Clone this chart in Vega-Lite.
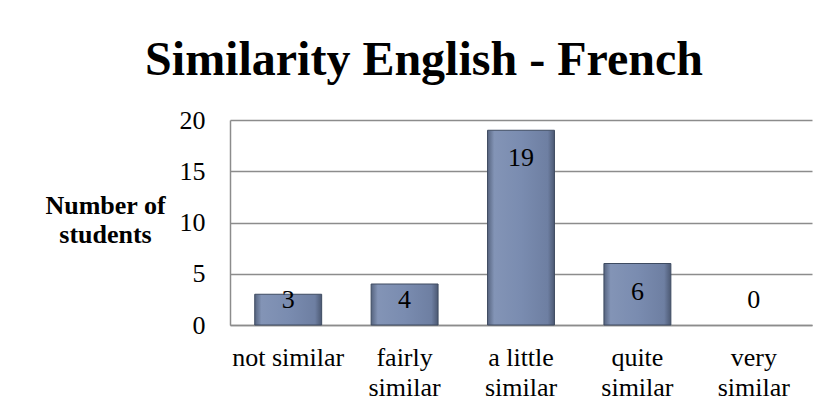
{
  "$schema": "https://vega.github.io/schema/vega-lite/v6.json",
  "width": 582,
  "height": 205,
  "autosize": {"type": "none"},
  "padding": {"left": 230, "top": 120, "right": 18, "bottom": 89},
  "background": "white",
  "title": {
    "text": "Similarity English - French",
    "font": "Liberation Serif",
    "fontSize": 48,
    "fontWeight": "bold",
    "color": "black",
    "anchor": "middle",
    "frame": "group",
    "dx": -97,
    "offset": 22
  },
  "data": {
    "values": [
      {"category": "not similar", "count": 3},
      {"category": "fairly similar", "count": 4},
      {"category": "a little similar", "count": 19},
      {"category": "quite similar", "count": 6},
      {"category": "very similar", "count": 0}
    ]
  },
  "transform": [{"calculate": "max(datum.count - 2.75, 2.4)", "as": "labelPos"}],
  "encoding": {
    "x": {
      "field": "category",
      "type": "nominal",
      "sort": null,
      "scale": {"paddingInner": 0.425, "paddingOuter": 0.2125},
      "axis": {
        "title": null,
        "labelExpr": "datum.value == 'not similar' ? datum.value : [slice(datum.value, 0, length(datum.value) - 8), 'similar']",
        "labelFont": "Liberation Serif",
        "labelFontSize": 26,
        "labelColor": "black",
        "labelLineHeight": 30,
        "labelPadding": 19,
        "labelAngle": 0,
        "ticks": false,
        "domainColor": "#8c8c8c",
        "domainWidth": 1.5
      }
    }
  },
  "layer": [
    {
      "transform": [{"filter": "datum.count > 0"}],
      "mark": {
        "type": "bar",
        "stroke": "#3e4b61",
        "strokeWidth": 1,
        "color": {
          "gradient": "linear",
          "x1": 0, "y1": 0, "x2": 1, "y2": 0,
          "stops": [
            {"offset": 0, "color": "#56647f"},
            {"offset": 0.1, "color": "#8394b6"},
            {"offset": 0.5, "color": "#7a8cb0"},
            {"offset": 0.9, "color": "#6e7fa2"},
            {"offset": 1, "color": "#4c5973"}
          ]
        }
      },
      "encoding": {
        "y": {
          "field": "count",
          "type": "quantitative",
          "scale": {"domain": [0, 20], "nice": false},
          "axis": {
            "title": ["Number of", "students"],
            "titleAngle": 0,
            "titleX": -125,
            "titleY": 93,
            "titleAlign": "center",
            "titleBaseline": "alphabetic",
            "titleFont": "Liberation Serif",
            "titleFontSize": 26,
            "titleFontWeight": "bold",
            "titleColor": "black",
            "titleLineHeight": 29,
            "labelFont": "Liberation Serif",
            "labelFontSize": 26,
            "labelColor": "black",
            "labelPadding": 25,
            "ticks": false,
            "values": [0, 5, 10, 15, 20],
            "grid": true,
            "gridColor": "#8c8c8c",
            "gridWidth": 1.5,
            "domainColor": "#8c8c8c",
            "domainWidth": 1.5
          }
        }
      }
    },
    {
      "mark": {
        "type": "text",
        "font": "Liberation Serif",
        "fontSize": 26,
        "color": "black",
        "baseline": "middle"
      },
      "encoding": {
        "y": {"field": "labelPos", "type": "quantitative"},
        "text": {"field": "count", "type": "quantitative"}
      }
    }
  ],
  "config": {"view": {"stroke": null}}
}
